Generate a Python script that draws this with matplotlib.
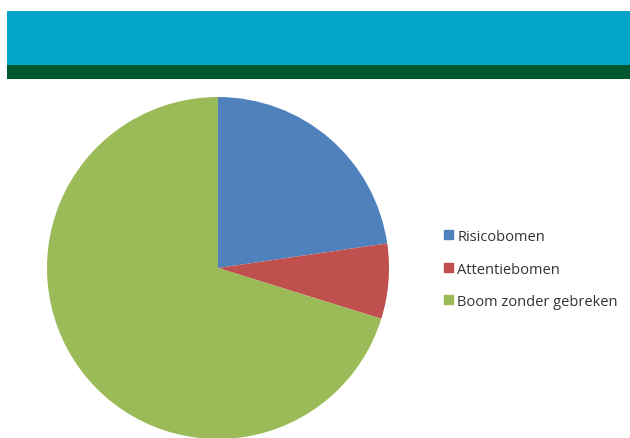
import matplotlib.pyplot as plt
from matplotlib.patches import Patch

labels = ['Risicobomen', 'Attentiebomen', 'Boom zonder gebreken']
values = [22.7, 7.1, 70.2]
colors = ['#4F81BD', '#C0504D', '#9BBB59']

fig = plt.figure(figsize=(6.3, 4.39), dpi=100)

# banner at the top
top = fig.add_axes([7 / 630, 1 - 66 / 439, 1, 54 / 439])
top.set_facecolor('#00A5C8')
top.set_xticks([])
top.set_yticks([])
for s in top.spines.values():
    s.set_visible(False)
strip = fig.add_axes([7 / 630, 1 - 80 / 439, 1, 14 / 439])
strip.set_facecolor('#00582E')
strip.set_xticks([])
strip.set_yticks([])
for s in strip.spines.values():
    s.set_visible(False)

ax = fig.add_axes([47 / 630, -1 / 439, 342 / 630, 342 / 439])
ax.pie(values, colors=colors, startangle=90, counterclock=False, radius=1)
ax.set_xlim(-1, 1)
ax.set_ylim(-1, 1)
ax.set_aspect('equal')
ax.axis('off')

handles = [Patch(color=c) for c in colors]
fig.legend(handles, labels, loc='center left', bbox_to_anchor=(431 / 630, 1 - 270 / 439),
           frameon=False, handlelength=0.6, handleheight=0.6, handletextpad=0.3,
           labelspacing=1.2, prop={'family': 'Open Sans', 'size': 10.5}, labelcolor='#333333')

fig.savefig('out.png', dpi=100)
